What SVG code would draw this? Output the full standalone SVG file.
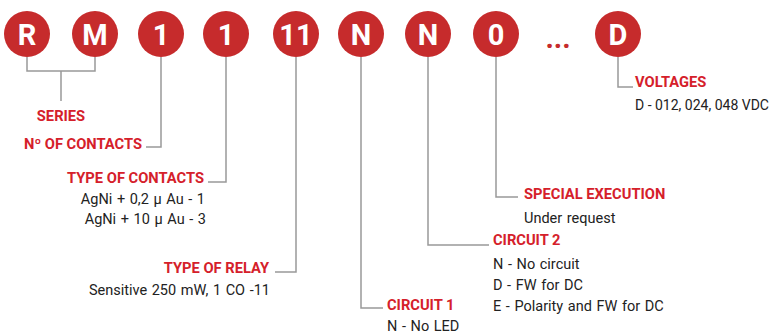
<svg xmlns="http://www.w3.org/2000/svg" width="776" height="334" viewBox="0 0 776 334">
<style>
.c{fill:#C62B2C}
.l{font-family:Roboto,"Liberation Sans",sans-serif;font-weight:bold;font-size:29px;fill:#fff;text-anchor:middle}
.h{font-family:Roboto,"Liberation Sans",sans-serif;font-weight:bold;font-size:14.7px;fill:#D5202A}
.t{font-family:Roboto,"Liberation Sans",sans-serif;font-size:14.5px;word-spacing:1px;fill:#222}
.e{text-anchor:end}
.k{fill:none;stroke:#999;stroke-width:1.5}
</style>
<rect width="776" height="334" fill="#fff"/>
<g id="connectors">
<path class="k" d="M27 57V71H95V57M61 71V101"/>
<path class="k" d="M161 57V147H146"/>
<path class="k" d="M226 57V182H208"/>
<path class="k" d="M296 57V272H275"/>
<path class="k" d="M361 57V308H383"/>
<path class="k" d="M428 57V245H489"/>
<path class="k" d="M496 57V197H518"/>
<path class="k" d="M618 57V87H633"/>
</g>
<g id="node-R"><circle class="c" cx="27" cy="34" r="23"/><text class="l" x="27" y="45">R</text></g>
<g id="node-M"><circle class="c" cx="95" cy="34" r="23"/><text class="l" x="95" y="45">M</text></g>
<g id="node-1a"><circle class="c" cx="161" cy="34" r="23"/><text class="l" x="161" y="45">1</text></g>
<g id="node-1b"><circle class="c" cx="226" cy="34" r="23"/><text class="l" x="226" y="45">1</text></g>
<g id="node-11"><circle class="c" cx="296" cy="34" r="23"/><text class="l" x="296" y="45">11</text></g>
<g id="node-N1"><circle class="c" cx="361" cy="34" r="23"/><text class="l" x="361" y="45">N</text></g>
<g id="node-N2"><circle class="c" cx="428" cy="34" r="23"/><text class="l" x="428" y="45">N</text></g>
<g id="node-0"><circle class="c" cx="496" cy="34" r="23"/><text class="l" x="496" y="45">0</text></g>
<g id="node-dots"><text class="l" x="558" y="48" style="fill:#C62B2C">...</text></g>
<g id="node-D"><circle class="c" cx="618" cy="34" r="23"/><text class="l" x="618" y="45">D</text></g>
<g id="label-series"><text class="h" x="61" y="121" text-anchor="middle">SERIES</text></g>
<g id="label-contacts"><text class="h e" x="142" y="149">Nº OF CONTACTS</text></g>
<g id="label-type-contacts"><text class="h e" x="204" y="183">TYPE OF CONTACTS</text>
<text class="t e" x="205" y="204">AgNi + 0,2 µ Au - 1</text>
<text class="t e" x="206" y="224">AgNi + 10 µ Au - 3</text></g>
<g id="label-relay"><text class="h e" x="269" y="273">TYPE OF RELAY</text>
<text class="t e" x="270" y="295">Sensitive 250 mW, 1 CO -11</text></g>
<g id="label-circuit1"><text class="h" x="387" y="310">CIRCUIT 1</text>
<text class="t" x="387" y="331">N - No LED</text></g>
<g id="label-circuit2"><text class="h" x="493" y="245">CIRCUIT 2</text>
<text class="t" x="493" y="269">N - No circuit</text>
<text class="t" x="493" y="290">D - FW for DC</text>
<text class="t" x="493" y="311">E - Polarity and FW for DC</text></g>
<g id="label-special"><text class="h" x="524" y="199">SPECIAL EXECUTION</text>
<text class="t" x="524" y="223">Under request</text></g>
<g id="label-voltages"><text class="h" x="635" y="87">VOLTAGES</text>
<text class="t" x="635" y="110" style="font-size:14px;word-spacing:0">D - 012, 024, 048 VDC</text></g>
</svg>
